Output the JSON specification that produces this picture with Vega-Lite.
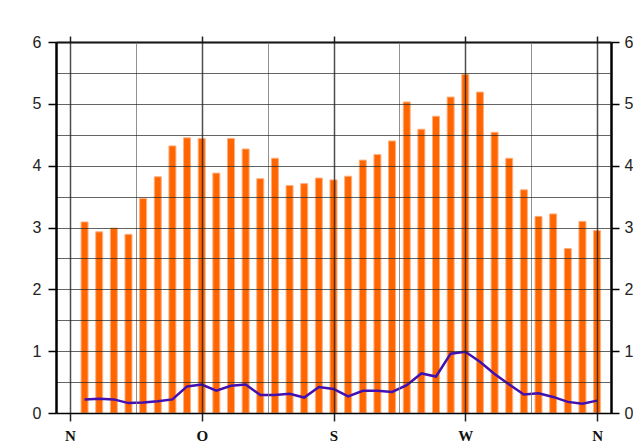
{
  "$schema": "https://vega.github.io/schema/vega-lite/v6.json",
  "autosize": "none",
  "width": 555,
  "height": 371,
  "padding": {"left": 56, "top": 42, "right": 22, "bottom": 29},
  "background": "white",
  "config": {"view": {"stroke": null}},
  "data": {"values": [
    {"dir": 10, "value": 3.09, "dev": 0.22},
    {"dir": 20, "value": 2.93, "dev": 0.23},
    {"dir": 30, "value": 2.99, "dev": 0.22},
    {"dir": 40, "value": 2.89, "dev": 0.16},
    {"dir": 50, "value": 3.47, "dev": 0.17},
    {"dir": 60, "value": 3.82, "dev": 0.19},
    {"dir": 70, "value": 4.32, "dev": 0.22},
    {"dir": 80, "value": 4.45, "dev": 0.43},
    {"dir": 90, "value": 4.44, "dev": 0.46},
    {"dir": 100, "value": 3.88, "dev": 0.36},
    {"dir": 110, "value": 4.44, "dev": 0.44},
    {"dir": 120, "value": 4.27, "dev": 0.46},
    {"dir": 130, "value": 3.79, "dev": 0.29},
    {"dir": 140, "value": 4.12, "dev": 0.29},
    {"dir": 150, "value": 3.68, "dev": 0.31},
    {"dir": 160, "value": 3.71, "dev": 0.25},
    {"dir": 170, "value": 3.80, "dev": 0.42},
    {"dir": 180, "value": 3.77, "dev": 0.39},
    {"dir": 190, "value": 3.83, "dev": 0.27},
    {"dir": 200, "value": 4.09, "dev": 0.36},
    {"dir": 210, "value": 4.18, "dev": 0.36},
    {"dir": 220, "value": 4.40, "dev": 0.34},
    {"dir": 230, "value": 5.03, "dev": 0.45},
    {"dir": 240, "value": 4.59, "dev": 0.64},
    {"dir": 250, "value": 4.80, "dev": 0.59},
    {"dir": 260, "value": 5.11, "dev": 0.96},
    {"dir": 270, "value": 5.48, "dev": 0.99},
    {"dir": 280, "value": 5.19, "dev": 0.83},
    {"dir": 290, "value": 4.54, "dev": 0.63},
    {"dir": 300, "value": 4.12, "dev": 0.46},
    {"dir": 310, "value": 3.61, "dev": 0.30},
    {"dir": 320, "value": 3.18, "dev": 0.32},
    {"dir": 330, "value": 3.22, "dev": 0.26},
    {"dir": 340, "value": 2.66, "dev": 0.18},
    {"dir": 350, "value": 3.10, "dev": 0.15},
    {"dir": 360, "value": 2.95, "dev": 0.20}
  ]},
  "layer": [
    {
      "mark": {"type": "bar", "width": 7, "color": "#FF6600", "stroke": "#FFB080", "strokeWidth": 1},
      "encoding": {
        "x": {
          "field": "dir", "type": "quantitative",
          "scale": {"domain": [-9.5, 369.5], "nice": false, "zero": false, "padding": 0},
          "axis": {
            "orient": "bottom", "title": null, "zindex": 1,
            "values": [0, 45, 90, 135, 180, 225, 270, 315, 360],
            "labelExpr": "datum.value == 0 || datum.value == 360 ? 'N' : datum.value == 90 ? 'O' : datum.value == 180 ? 'S' : datum.value == 270 ? 'W' : ''",
            "labelFont": "Liberation Serif", "labelFontWeight": "bold", "labelFontSize": 15,
            "labelColor": "#111", "labelPadding": 7, "labelFlush": false, "labelOverlap": false,
            "tickSize": 8, "tickColor": "#222", "tickWidth": 1.5,
            "tickOpacity": {"condition": {"test": "datum.value % 90 === 0", "value": 1}, "value": 0},
            "domainColor": "#000", "domainWidth": 1.5,
            "grid": true,
            "gridColor": {"condition": {"test": "datum.value % 90 === 0", "value": "#222222"}, "value": "#777777"},
            "gridWidth": {"condition": {"test": "datum.value % 90 === 0", "value": 1.5}, "value": 1},
            "gridOpacity": 0.8
          }
        },
        "y": {
          "field": "value", "type": "quantitative",
          "scale": {"domain": [0, 6], "nice": false},
          "axis": {
            "orient": "left", "title": null, "zindex": 1,
            "values": [0, 0.5, 1, 1.5, 2, 2.5, 3, 3.5, 4, 4.5, 5, 5.5, 6],
            "labelExpr": "datum.value % 1 === 0 ? format(datum.value, 'd') : ''",
            "labelFont": "Liberation Sans", "labelFontSize": 16, "labelColor": "#222",
            "labelPadding": 7, "labelFlush": false, "labelOverlap": false,
            "tickSize": 8, "tickColor": "#000", "tickWidth": 1.5,
            "tickOpacity": {"condition": {"test": "datum.value % 1 === 0", "value": 1}, "value": 0},
            "domainColor": "#000", "domainWidth": 2.5,
            "grid": true, "gridColor": "#222222", "gridOpacity": 0.7, "gridWidth": 1
          }
        }
      }
    },
    {
      "mark": {"type": "line", "color": "#4010B0", "strokeWidth": 2.5},
      "encoding": {
        "x": {
          "field": "dir", "type": "quantitative",
          "axis": {
            "orient": "top", "title": null, "labels": false, "grid": false,
            "values": [0, 90, 180, 270, 360],
            "tickSize": 6, "tickColor": "#222", "tickWidth": 1.5,
            "domainColor": "#000", "domainWidth": 2
          }
        },
        "y": {
          "field": "dev", "type": "quantitative",
          "axis": {
            "orient": "right", "title": null, "grid": false,
            "values": [0, 1, 2, 3, 4, 5, 6],
            "labelFont": "Liberation Sans", "labelFontSize": 16, "labelColor": "#222",
            "labelPadding": 5, "labelFlush": false, "labelOverlap": false,
            "tickSize": 8, "tickColor": "#000", "tickWidth": 1.5,
            "domainColor": "#000", "domainWidth": 2.5
          }
        }
      }
    }
  ],
  "resolve": {"axis": {"x": "independent", "y": "independent"}}
}
